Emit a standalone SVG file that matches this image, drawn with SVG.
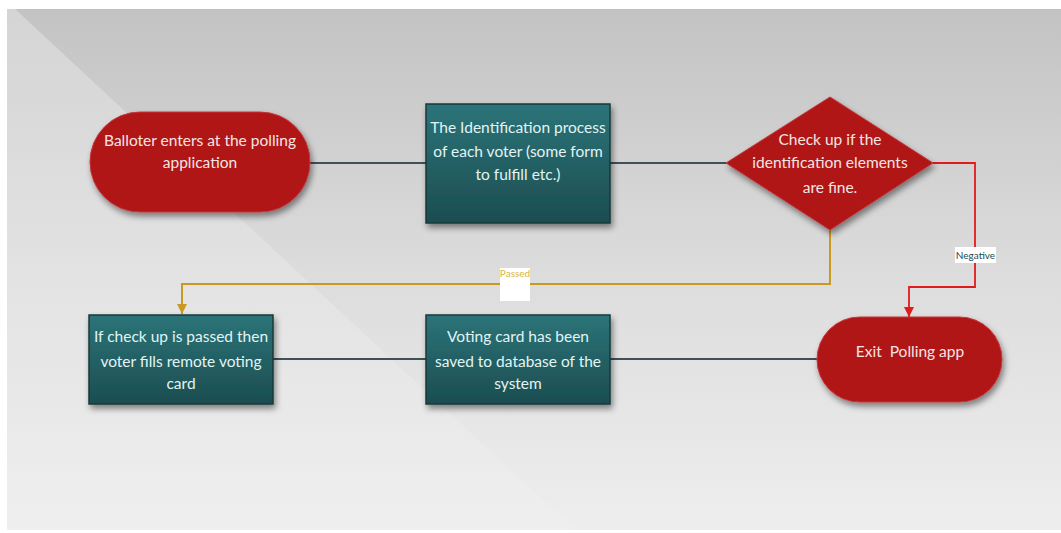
<svg xmlns="http://www.w3.org/2000/svg" width="1061" height="533" viewBox="0 0 1061 533">
  <defs>
    <linearGradient id="bg" x1="0" y1="0" x2="0" y2="1">
      <stop offset="0" stop-color="#c3c3c3"/>
      <stop offset="0.5" stop-color="#dcdcdc"/>
      <stop offset="1" stop-color="#eeeeee"/>
    </linearGradient>
    <linearGradient id="sheen" x1="0" y1="0" x2="0" y2="1">
      <stop offset="0" stop-color="#ffffff" stop-opacity="0.3"/>
      <stop offset="1" stop-color="#ffffff" stop-opacity="0.08"/>
    </linearGradient>
    <linearGradient id="teal" x1="0" y1="0" x2="0" y2="1">
      <stop offset="0" stop-color="#2b7479"/>
      <stop offset="1" stop-color="#1c4d50"/>
    </linearGradient>
    <filter id="shadow" x="-10%" y="-10%" width="125%" height="135%">
      <feDropShadow dx="2" dy="4" stdDeviation="3" flood-color="#000" flood-opacity="0.45"/>
    </filter>
    <marker id="arrowRed" viewBox="0 0 10 10" refX="10" refY="5" markerWidth="10" markerHeight="10" markerUnits="userSpaceOnUse" orient="auto">
      <path d="M0,0 L10,5 L0,10 z" fill="#e01b1b"/>
    </marker>
    <marker id="arrowGold" viewBox="0 0 10 10" refX="10" refY="5" markerWidth="10" markerHeight="10" markerUnits="userSpaceOnUse" orient="auto">
      <path d="M0,0 L10,5 L0,10 z" fill="#c89a22"/>
    </marker>
  </defs>
  <style>
    .lbl { font-family: Lato, "Open Sans", "Liberation Sans", sans-serif; font-size: 15.5px; text-anchor: middle; }
    .red { fill: #b01419; stroke: #c4363a; stroke-width: 1; filter: url(#shadow); }
    .box { fill: url(#teal); stroke: #17393b; stroke-width: 1.5; filter: url(#shadow); }
    .onred { fill: #f6e4e4; }
    .onteal { fill: #e2f4f4; }
    .link { fill: none; stroke: #3e5157; stroke-width: 2; }
    .tag { font-family: Lato, "Open Sans", "Liberation Sans", sans-serif; font-size: 10px; text-anchor: middle; }
  </style>

  <!-- page background -->
  <rect x="0" y="0" width="1061" height="533" fill="#ffffff"/>
  <rect x="7" y="9" width="1054" height="521" fill="url(#bg)"/>
  <polygon points="7,9 15,9 575,530 7,530" fill="url(#sheen)"/>

  <!-- connectors -->
  <g id="connectors">
    <line class="link" x1="310" y1="163" x2="426" y2="163"/>
    <line class="link" x1="610" y1="163" x2="726" y2="163"/>
    <line class="link" x1="273" y1="359" x2="426" y2="359"/>
    <line class="link" x1="610" y1="359" x2="817" y2="359"/>
    <polyline points="933,163 975,163 975,287 909,287 909,317" fill="none" stroke="#e01b1b" stroke-width="1.8" marker-end="url(#arrowRed)"/>
    <polyline points="830,230 830,284 182,284 182,314" fill="none" stroke="#c89a22" stroke-width="2" marker-end="url(#arrowGold)"/>
    <rect x="500" y="268" width="30" height="33" fill="#ffffff"/>
    <text class="tag" x="515" y="277" fill="#d6b640">Passed</text>
    <rect x="955" y="247" width="41" height="16" fill="#ffffff"/>
    <text class="tag" x="975.5" y="259" fill="#1f4a4d">Negative</text>
  </g>

  <!-- start terminal -->
  <g id="start">
    <rect class="red" x="90" y="112" width="220" height="100" rx="50" ry="50"/>
    <text class="lbl onred" x="200" y="146">Balloter enters at the polling</text>
    <text class="lbl onred" x="200" y="168">application</text>
  </g>

  <!-- identification step -->
  <g id="identify">
    <rect class="box" x="426" y="104" width="184" height="119"/>
    <text class="lbl onteal" x="518" y="133">The Identification process</text>
    <text class="lbl onteal" x="518" y="157">of each voter (some form</text>
    <text class="lbl onteal" x="518" y="180">to fulfill etc.)</text>
  </g>

  <!-- decision -->
  <g id="check">
    <polygon class="red" points="830,97 933,163 830,230 726,163"/>
    <text class="lbl onred" x="830" y="145">Check up if the</text>
    <text class="lbl onred" x="830" y="168">identification elements</text>
    <text class="lbl onred" x="830" y="193">are fine.</text>
  </g>

  <!-- fill voting card -->
  <g id="fill-card">
    <rect class="box" x="89" y="315" width="184" height="89"/>
    <text class="lbl onteal" x="181" y="342">If check up is passed then</text>
    <text class="lbl onteal" x="181" y="367">voter fills remote voting</text>
    <text class="lbl onteal" x="181" y="389">card</text>
  </g>

  <!-- save card -->
  <g id="save-card">
    <rect class="box" x="426" y="315" width="184" height="89"/>
    <text class="lbl onteal" x="518" y="342">Voting card has been</text>
    <text class="lbl onteal" x="518" y="367">saved to database of the</text>
    <text class="lbl onteal" x="518" y="389">system</text>
  </g>

  <!-- exit terminal -->
  <g id="exit">
    <rect class="red" x="817" y="317" width="185" height="85" rx="42.5" ry="42.5"/>
    <text class="lbl onred" x="910" y="357" xml:space="preserve">Exit  Polling app</text>
  </g>
</svg>
